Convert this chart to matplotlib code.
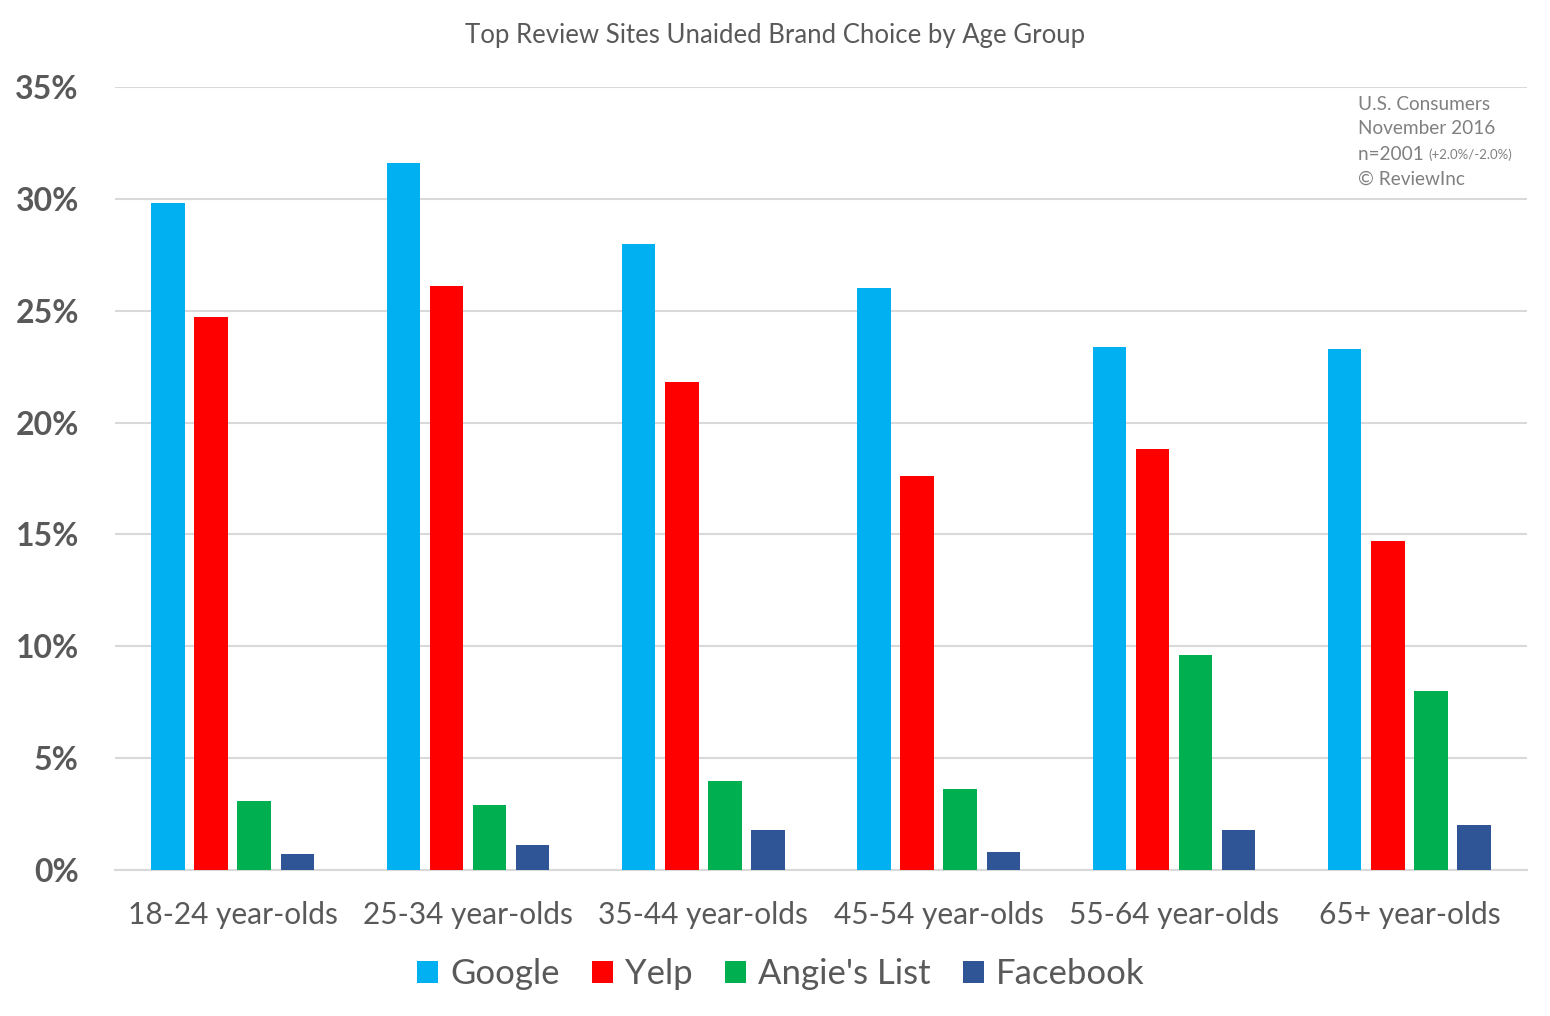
import matplotlib
matplotlib.use("Agg")
import matplotlib.pyplot as plt
import numpy as np

plt.rcParams['font.family'] = ['Lato', 'DejaVu Sans']

categories = ["18-24 year-olds", "25-34 year-olds", "35-44 year-olds",
              "45-54 year-olds", "55-64 year-olds", "65+ year-olds"]
series_names = ["Google", "Yelp", "Angie's List", "Facebook"]
google = [29.8, 31.6, 28.0, 26.0, 23.4, 23.3]
yelp = [24.7, 26.1, 21.8, 17.6, 18.8, 14.7]
angies = [3.1, 2.9, 4.0, 3.6, 9.6, 8.0]
facebook = [0.7, 1.1, 1.8, 0.8, 1.8, 2.0]
yticks = [0, 5, 10, 15, 20, 25, 30, 35]
colors = ["#00B0F0", "#FF0000", "#00B050", "#2F5597"]

fig = plt.figure(figsize=(15.5, 10.16), dpi=100)
ax = fig.add_axes([115/1550, 1 - 870/1016, (1527-115)/1550, (870-87)/1016])

x = np.arange(len(categories))
step = 0.183
width = 0.142
for i, (vals, name, c) in enumerate(zip([google, yelp, angies, facebook], series_names, colors)):
    ax.bar(x + (i - 1.5) * step, vals, width=width, color=c, label=name, zorder=3)

ax.set_xlim(-0.5, len(categories) - 0.5)
ax.set_ylim(0, 35)
ax.set_yticks(yticks)
ax.set_yticklabels([f"{t}%" for t in yticks], fontsize=23, fontweight='bold', color='#595959')
ax.set_xticks(x)
ax.set_xticklabels(categories, fontsize=21.5, color='#595959')
ax.tick_params(axis='both', length=0)
ax.tick_params(axis='x', pad=22)
ax.tick_params(axis='y', pad=26)
ax.grid(axis='y', color='#D9D9D9', linewidth=1.5, zorder=0)
for s in ['top', 'right', 'left']:
    ax.spines[s].set_visible(False)
ax.spines['bottom'].set_color('#D9D9D9')
ax.spines['bottom'].set_linewidth(1.5)

fig.text(0.5, 1 - 35/1016, "Top Review Sites Unaided Brand Choice by Age Group",
         ha='center', va='center', fontsize=18.5, color='#595959')

ann_x = 1358/1550
fig.text(ann_x, 1 - 104/1016, "U.S. Consumers", fontsize=13.7, color='#808080', va='center')
fig.text(ann_x, 1 - 129/1016, "November 2016", fontsize=13.7, color='#808080', va='center')
t = fig.text(ann_x, 1 - 154/1016, "n=2001 ", fontsize=13.7, color='#808080', va='center')
fig.canvas.draw()
bb = t.get_window_extent()
fig.text(bb.x1 / 1550, 1 - 155/1016, "(+2.0%/-2.0%)", fontsize=9.5, color='#808080', va='center')
fig.text(ann_x, 1 - 179/1016, "\u00a9 ReviewInc", fontsize=13.7, color='#808080', va='center')

leg = fig.legend(loc='center', bbox_to_anchor=(781/1550, 1 - 974/1016), ncol=4, frameon=False,
                 fontsize=25, handlelength=0.6, handleheight=0.6, handletextpad=0.35,
                 columnspacing=0.93)
for txt in leg.get_texts():
    txt.set_color('#595959')

fig.savefig("out.png", dpi=100)
